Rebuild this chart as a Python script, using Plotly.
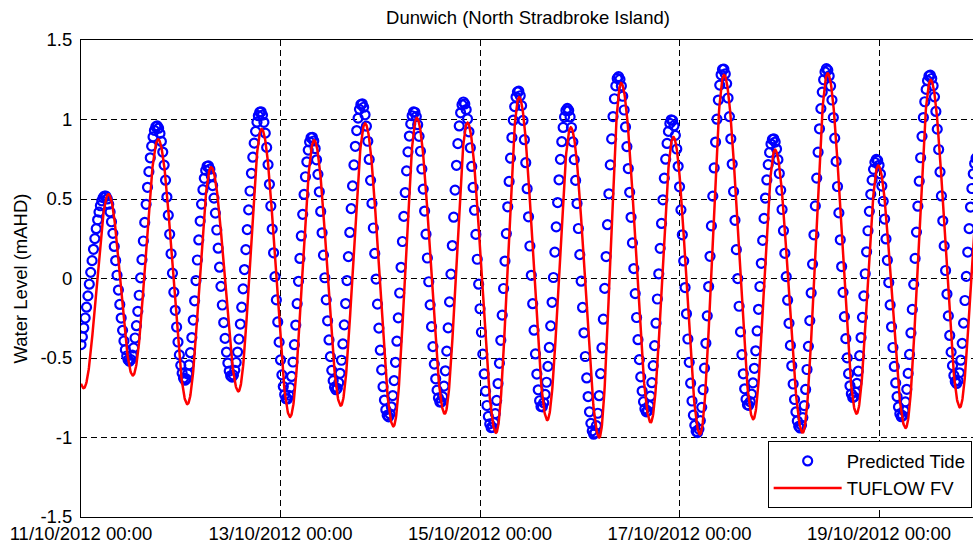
import numpy as np
import pandas as pd
import plotly.graph_objects as go

# ---- data (hours after 11/10/2012 00:00, water level mAHD) ----
# Predicted Tide: times / levels of successive low and high waters
pred_ext_hours = [-1.5, 5.82, 11.66, 18.25, 25.06, 30.52, 36.29, 43.22, 49.52, 55.53,
                  61.38, 67.56, 73.95, 80.13, 86.51, 92.0, 98.82, 105.22, 110.85, 117.0,
                  123.42, 129.27, 136.1, 142.11, 148.27, 154.52, 160.53, 166.55, 172.97,
                  179.39, 185.78, 191.41, 197.42, 204.23, 210.66, 215.5]
pred_ext_levels = [-0.52, 0.52, -0.52, 0.96, -0.64, 0.71, -0.62, 1.05, -0.76, 0.89,
                   -0.70, 1.10, -0.87, 1.05, -0.78, 1.11, -0.94, 1.18, -0.81, 1.07,
                   -0.98, 1.27, -0.84, 1.00, -0.97, 1.32, -0.80, 0.88, -0.94,
                   1.32, -0.75, 0.75, -0.87, 1.28, -0.66, 0.76]
# TUFLOW FV: times / levels of successive low and high waters
tuflow_ext_hours = [-6.0, 0.65, 6.61, 12.48, 18.57, 25.61, 31.31, 37.88, 43.46, 50.31,
                    56.08, 62.51, 68.35, 75.16, 80.78, 87.52, 92.95, 99.86, 105.39, 112.19,
                    117.82, 124.7, 129.92, 137.06, 142.5, 148.92, 154.69, 161.74, 166.96,
                    173.62, 179.63, 186.6, 191.8, 198.39, 204.4, 211.45, 216.6]
tuflow_ext_levels = [0.50, -0.69, 0.53, -0.61, 0.875, -0.79, 0.70, -0.71, 0.94, -0.87,
                     0.87, -0.80, 0.975, -0.93, 1.01, -0.85, 0.98, -0.97, 1.14, -0.89,
                     0.95, -1.00, 1.23, -0.905, 0.89, -0.98, 1.28, -0.885, 0.81,
                     -0.97, 1.29, -0.85, 0.71, -0.94, 1.25, -0.81, 0.70]

x_tick_dates = ["2012-10-11", "2012-10-13", "2012-10-15", "2012-10-17", "2012-10-19"]
x_tick_labels = ["11/10/2012 00:00", "13/10/2012 00:00", "15/10/2012 00:00",
                 "17/10/2012 00:00", "19/10/2012 00:00"]
y_tick_vals = [-1.5, -1, -0.5, 0, 0.5, 1, 1.5]
y_tick_labels = ["-1.5", "-1", "-0.5", "0", "0.5", "1", "1.5"]

start = pd.Timestamp("2012-10-11 00:00")
end_hours = 214.6


def tide_between_turns(ext_t, ext_v, t):
    ext_t = np.asarray(ext_t, float)
    ext_v = np.asarray(ext_v, float)
    i = np.clip(np.searchsorted(ext_t, t) - 1, 0, len(ext_t) - 2)
    s = (t - ext_t[i]) / (ext_t[i + 1] - ext_t[i])
    f = 0.5 * (1 - np.cos(np.pi * s))
    return ext_v[i] + (ext_v[i + 1] - ext_v[i]) * f


pred_hours = np.arange(0, end_hours + 2, 20 / 60)
pred_level = tide_between_turns(pred_ext_hours, pred_ext_levels, pred_hours)
tuf_hours = np.arange(0, end_hours + 2, 5 / 60)
tuf_level = tide_between_turns(tuflow_ext_hours, tuflow_ext_levels, tuf_hours)

pred_x = start + pd.to_timedelta(pred_hours, unit="h")
tuf_x = start + pd.to_timedelta(tuf_hours, unit="h")

FONT = "Liberation Sans, Arial, sans-serif"

fig = go.Figure()
fig.add_trace(go.Scatter(
    x=pred_x, y=pred_level, mode="markers", name="Predicted Tide",
    marker=dict(symbol="circle-open", size=9, color="rgb(0,0,255)",
                line=dict(width=2.2, color="rgb(0,0,255)")),
))
fig.add_trace(go.Scatter(
    x=tuf_x, y=tuf_level, mode="lines", name="TUFLOW FV",
    line=dict(color="rgb(255,0,0)", width=2.5),
))

fig.update_layout(
    width=973, height=548,
    margin=dict(l=81, r=0, t=40, b=31, autoexpand=False),
    paper_bgcolor="white", plot_bgcolor="white",
    font=dict(family=FONT, size=18.5, color="black"),
    title=dict(text="Dunwich (North Stradbroke Island)", x=528 / 973, xanchor="center",
               y=1 - 17.5 / 548, yref="container", yanchor="middle",
               font=dict(size=18.5, color="black")),
    showlegend=True,
    legend=dict(x=0.9985, xanchor="right", y=0.018, yanchor="bottom",
                bgcolor="white", bordercolor="black", borderwidth=1,
                font=dict(size=18.5), itemwidth=68, tracegroupgap=0),
)
fig.update_xaxes(
    type="date", automargin=False,
    range=[start, start + pd.Timedelta(hours=end_hours)],
    tickvals=pd.to_datetime(x_tick_dates), ticktext=x_tick_labels,
    showline=True, linecolor="black", linewidth=1, mirror=True,
    ticks="inside", ticklen=5, tickcolor="black",
    showgrid=True, gridcolor="black", gridwidth=1, griddash="6px,4px",
    zeroline=False, ticklabelstandoff=0,
)
fig.update_yaxes(
    range=[-1.5, 1.5], tickvals=y_tick_vals, ticktext=y_tick_labels, automargin=False,
    showline=True, linecolor="black", linewidth=1, mirror=False,
    ticks="inside", ticklen=5, tickcolor="black",
    showgrid=True, gridcolor="black", gridwidth=1, griddash="6px,4px",
    zeroline=False, ticklabelstandoff=4,
    title=dict(text="Water Level (mAHD)", standoff=7, font=dict(size=18.5)),
)

page_css = ("document.body.style.margin='0';"
            "document.body.style.overflow='hidden';"
            "document.documentElement.style.overflow='hidden';")
fig.write_html("out.html", post_script=page_css,
               config={"displayModeBar": False, "staticPlot": True})
